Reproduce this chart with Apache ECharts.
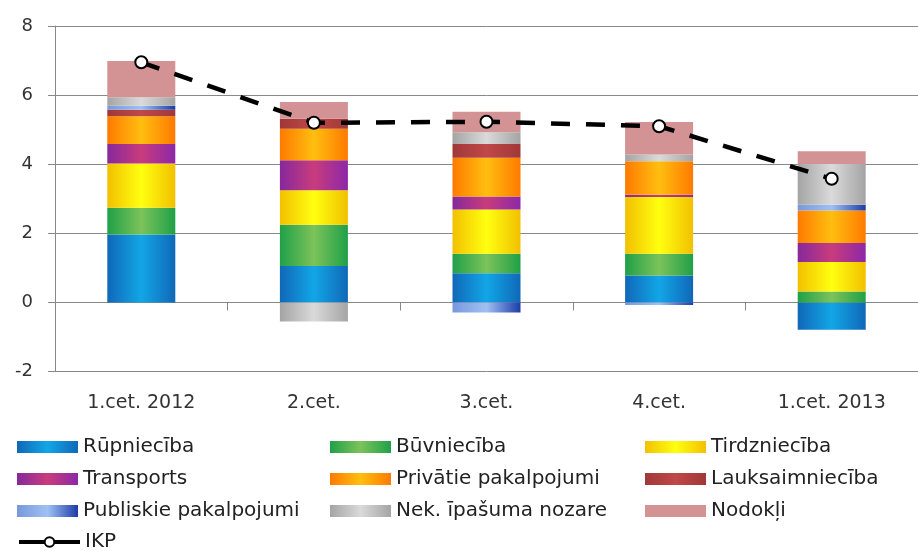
<!DOCTYPE html>
<html>
<head>
<meta charset="utf-8">
<script src="https://cdn.jsdelivr.net/npm/echarts@6/dist/echarts.min.js"></script>
<style>
  html, body { margin: 0; padding: 0; background: #fff; }
  #chart { width: 918px; height: 551px; }
</style>
</head>
<body>
<div id="chart"></div>
<script>
// Quarters on the category axis
const categories = ['1.cet. 2012', '2.cet.', '3.cet.', '4.cet.', '1.cet. 2013'];

// Contributions by sector (percentage points)
const rupnieciba      = [1.97, 1.06, 0.85, 0.78, -0.79];
const buvnieciba      = [0.77, 1.19, 0.56, 0.63, 0.32];
const tirdznieciba    = [1.28, 1.00, 1.28, 1.64, 0.85];
const transports      = [0.57, 0.87, 0.38, 0.07, 0.55];
const privatie        = [0.80, 0.91, 1.12, 0.97, 0.94];
const lauksaimnieciba = [0.19, 0.29, 0.40, 0.00, 0.00];
const publiskie       = [0.11, 0.00, -0.29, -0.07, 0.17];
const nekIpasuma      = [0.25, -0.55, 0.34, 0.19, 1.18];
const nodokli         = [1.05, 0.48, 0.59, 0.94, 0.37];

// Total growth
const ikp = [6.95, 5.20, 5.23, 5.10, 3.58];

// Y axis ticks
const yTicks = { min: -2, max: 8, interval: 2 };

const FONT = 'DejaVu Sans';

function hGrad(stops) {
  return {
    type: 'linear', x: 0, y: 0, x2: 1, y2: 0,
    colorStops: stops.map((c, i) => ({ offset: i / (stops.length - 1), color: c }))
  };
}

const sectors = [
  { name: 'Rūpniecība',          data: rupnieciba,      color: hGrad(['#1068b8', '#12a6e6', '#1068b8']) },
  { name: 'Būvniecība',          data: buvnieciba,      color: hGrad(['#20a048', '#7cc35a', '#20a048']) },
  { name: 'Tirdzniecība',        data: tirdznieciba,    color: hGrad(['#f2c000', '#ffff10', '#f2c000']) },
  { name: 'Transports',          data: transports,      color: hGrad(['#86289c', '#c83c7c', '#8c28a8']) },
  { name: 'Privātie pakalpojumi', data: privatie,       color: hGrad(['#ff7a00', '#ffbe10', '#ff7a00']) },
  { name: 'Lauksaimniecība',     data: lauksaimnieciba, color: hGrad(['#a03838', '#c04848', '#a03838']) },
  { name: 'Publiskie pakalpojumi', data: publiskie,     color: hGrad(['#7898dc', '#a0c0f4', '#1c3ca8']) },
  { name: 'Nek. īpašuma nozare', data: nekIpasuma,      color: hGrad(['#a4a4a4', '#dadada', '#a4a4a4']) },
  { name: 'Nodokļi',             data: nodokli,         color: '#d39294' }
];

const barSeries = sectors.map(s => ({
  name: s.name,
  type: 'bar',
  stack: 'total',
  barWidth: 68,
  data: s.data,
  itemStyle: { color: s.color },
  emphasis: { disabled: true }
}));

const lineSeries = {
  name: 'IKP',
  type: 'line',
  data: ikp,
  z: 10,
  symbol: 'circle',
  symbolSize: 12,
  lineStyle: { color: '#000', width: 4.5, type: [19, 16] },
  itemStyle: { color: '#fff', borderColor: '#000', borderWidth: 2 },
  emphasis: { disabled: true }
};

const legendText = { fontFamily: FONT, fontSize: 20, color: '#222', lineHeight: 20 };
function legendCol(left, top, names) {
  return {
    orient: 'vertical',
    left: left,
    top: top,
    itemWidth: 61,
    itemHeight: 12,
    itemGap: 12,
    padding: 0,
    textStyle: legendText,
    selectedMode: false,
    data: names.map(n => n === 'IKP'
      ? { name: n, lineStyle: { type: 'solid', width: 4 } }
      : { name: n, icon: 'rect' })
  };
}

const chart = echarts.init(document.getElementById('chart'));
chart.setOption({
  animation: false,
  backgroundColor: '#fff',
  grid: { left: 55, right: -8, top: 26, bottom: 179.3 },
  legend: [
    legendCol(17, 437, ['Rūpniecība', 'Transports', 'Publiskie pakalpojumi']),
    legendCol(330, 437, ['Būvniecība', 'Privātie pakalpojumi', 'Nek. īpašuma nozare']),
    legendCol(645, 437, ['Tirdzniecība', 'Lauksaimniecība', 'Nodokļi']),
    legendCol(17, 532, ['IKP'])
  ],
  xAxis: {
    type: 'category',
    data: categories,
    axisLine: { onZero: true, lineStyle: { color: '#888', width: 1 } },
    axisTick: { show: true, length: 8, lineStyle: { color: '#888' } },
    axisLabel: { margin: 22, fontFamily: FONT, fontSize: 19, color: '#333' }
  },
  yAxis: {
    type: 'value',
    min: yTicks.min,
    max: yTicks.max,
    interval: yTicks.interval,
    axisLine: { show: true, lineStyle: { color: '#888' } },
    axisTick: { show: true, length: 7, lineStyle: { color: '#888' } },
    axisLabel: { margin: 22, fontFamily: FONT, fontSize: 18, color: '#333' },
    splitLine: { show: true, lineStyle: { color: '#888', width: 1 } }
  },
  series: barSeries.concat([lineSeries])
});
</script>
</body>
</html>
